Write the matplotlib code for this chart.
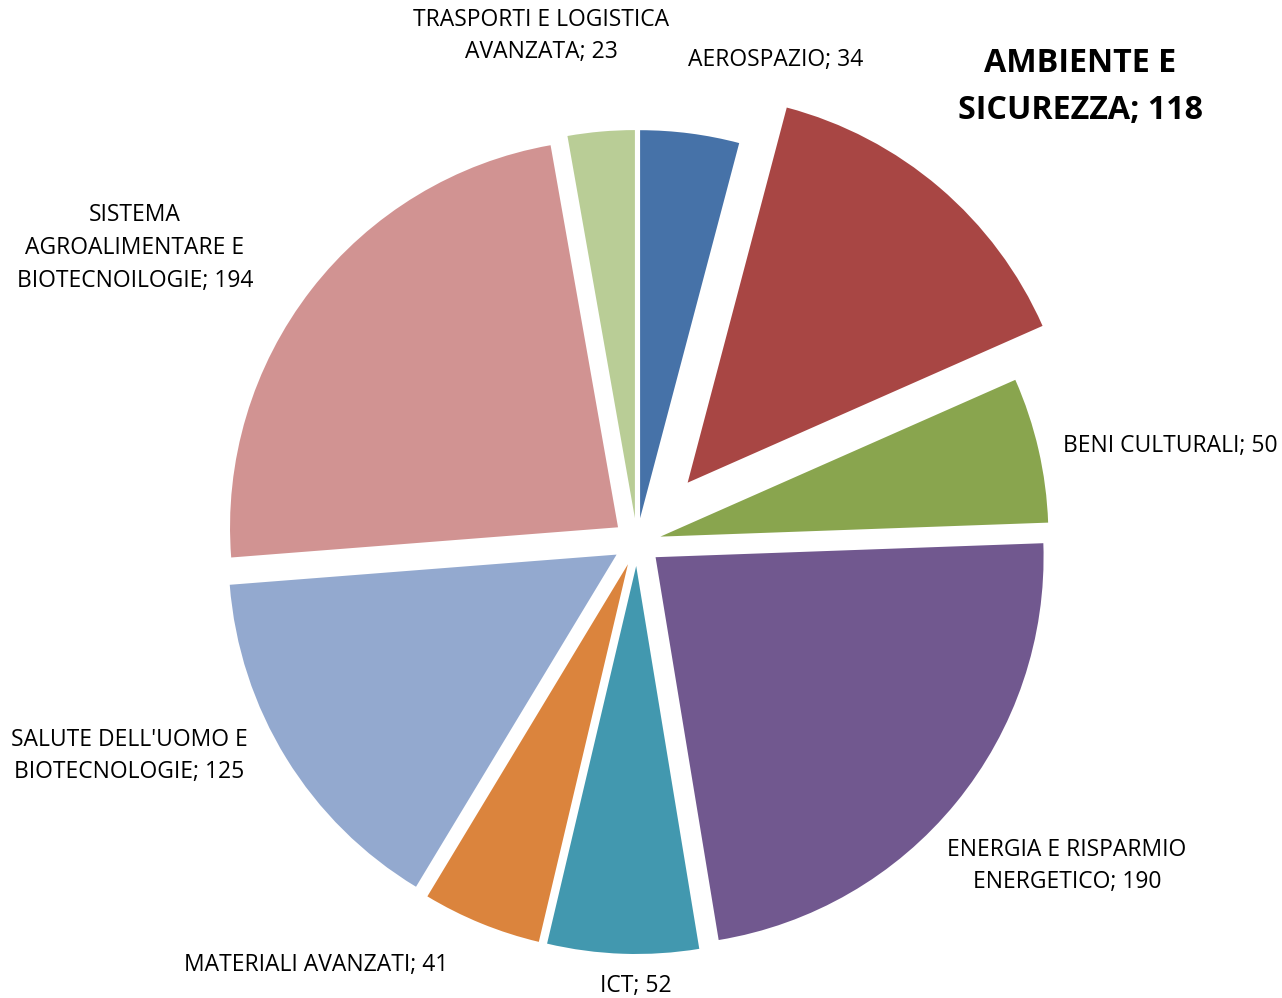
import matplotlib
matplotlib.use('Agg')
from matplotlib import pyplot as plt

plt.rcParams['font.family'] = ['Open Sans', 'DejaVu Sans']

sectors = ['TRASPORTI E LOGISTICA\nAVANZATA', 'AEROSPAZIO', 'AMBIENTE E\nSICUREZZA',
           'BENI CULTURALI', 'ENERGIA E RISPARMIO\nENERGETICO', 'ICT',
           'MATERIALI AVANZATI', "SALUTE DELL'UOMO E\nBIOTECNOLOGIE",
           'SISTEMA\nAGROALIMENTARE E\nBIOTECNOILOGIE']
counts = [23, 34, 118, 50, 190, 52, 41, 125, 194]
colors = ['#B9CD96', '#4672A8', '#A84644', '#89A54E', '#71588F',
          '#4298AF', '#DB843D', '#93A9CF', '#D19392']

# label anchors in pixel space (x from left, y from top)
label_pos = [(541, 36), (776, 60), (1080, 87), (1170, 446), (1067, 866),
             (636, 986), (316, 965), (129, 756), (135, 248)]

W, H = 1282, 998
cx, cy, R = 637, 542, 388
# explode distances in px (matplotlib uses absolute data units here)
explode = [24, 24, 78, 24, 24, 24, 24, 24, 24]

fig = plt.figure(figsize=(W / 100, H / 100), dpi=100)
ax = fig.add_axes([0, 0, 1, 1])

start = 90 + counts[0] / sum(counts) * 360
ax.pie(counts, colors=colors, explode=explode, startangle=start,
       counterclock=False, center=(cx, H - cy), radius=R,
       wedgeprops=dict(linewidth=0))

for name, val, (lx, ly) in zip(sectors, counts, label_pos):
    big = name.startswith('AMBIENTE')
    ax.text(lx, H - ly, f'{name}; {val}', ha='center', va='center',
            fontsize=23.2 if big else 16.5, fontweight='bold' if big else 'normal',
            linespacing=1.55 if big else 1.48, color='black')

ax.set_xlim(0, W)
ax.set_ylim(0, H)
ax.set_aspect('equal')
ax.axis('off')
fig.savefig('out.png', dpi=100, facecolor='white')
